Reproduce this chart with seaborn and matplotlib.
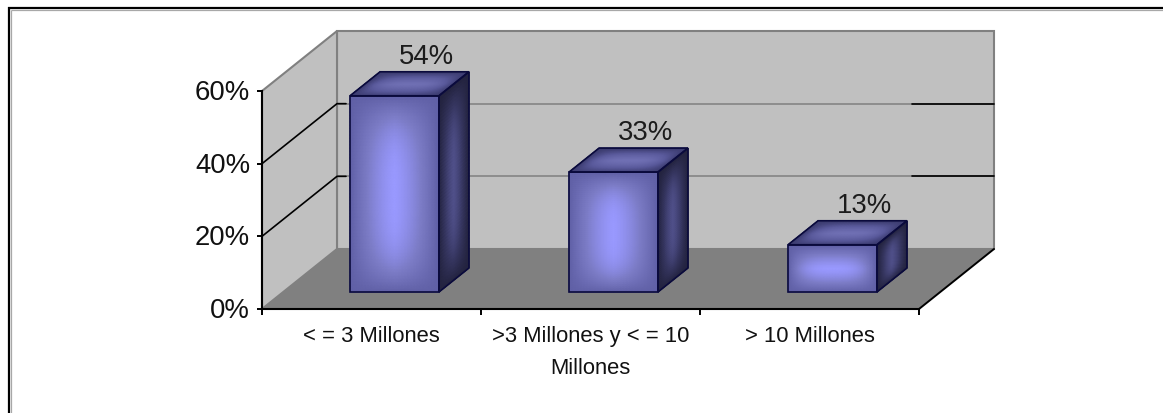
import numpy as np
import matplotlib
matplotlib.use("Agg")
import matplotlib.pyplot as plt
import pandas as pd
import seaborn as sns
from matplotlib.colors import LinearSegmentedColormap
from matplotlib.lines import Line2D
from matplotlib.patches import Polygon
from matplotlib.transforms import Affine2D

# Survey shares per revenue bracket
categories = ["< = 3 Millones", ">3 Millones y < = 10\nMillones", "> 10 Millones"]
values = [54, 33, 13]
value_labels = ["54%", "33%", "13%"]
y_ticks = [0, 20, 40, 60]
y_tick_labels = ["0%", "20%", "40%", "60%"]

W, H = 1163, 414
AX_LEFT, AX_RIGHT, AX_TOP, AX_BOTTOM = 262, 919, 92, 310

sns.set_theme(style="white")
plt.rcParams["font.family"] = ["Liberation Sans", "DejaVu Sans"]

fig = plt.figure(figsize=(W / 100, H / 100), dpi=100, facecolor="white")
ax = fig.add_axes([AX_LEFT / W, 1 - AX_BOTTOM / H,
                   (AX_RIGHT - AX_LEFT) / W, (AX_BOTTOM - AX_TOP) / H])
ax.patch.set_visible(False)

frame = pd.DataFrame({"slot": np.arange(len(categories)), "share": values})
sns.barplot(data=frame, x="slot", y="share", native_scale=True, width=0.406, color="#7676bc",
            saturation=1, ax=ax, zorder=3, linewidth=0)

XLIM = (-0.5, 2.5)
YLIM = (0, 60)
px_x = (XLIM[1] - XLIM[0]) / (AX_RIGHT - AX_LEFT)
px_y = (YLIM[1] - YLIM[0]) / (AX_BOTTOM - AX_TOP)

# Oblique projection: pixel offsets expressed in data units
WALL_DX, WALL_DY = 75 * px_x, 60 * px_y
SHIFT_DX, SHIFT_DY = 23 * px_x, 17 * px_y
BAR_DX, BAR_DY = 30 * px_x, 24 * px_y

GREY_WALL = "#c0c0c0"
GREY_FLOOR = "#808080"
GREY_EDGE = "#808080"
BAR_EDGE = "#0a0a3c"
x0, x1 = XLIM
y0, y1 = YLIM


def panel(points, color, edge="none", lw=0.0, z=1):
    ax.add_patch(Polygon(points, closed=True, facecolor=color, edgecolor=edge,
                         linewidth=lw, zorder=z, clip_on=False))


# Back wall, side wall and floor
panel([(x0 + WALL_DX, y0 + WALL_DY), (x1 + WALL_DX, y0 + WALL_DY),
       (x1 + WALL_DX, y1 + WALL_DY), (x0 + WALL_DX, y1 + WALL_DY)],
      GREY_WALL, GREY_EDGE, 1.5, z=1.1)
panel([(x0, y0), (x0 + WALL_DX, y0 + WALL_DY), (x0 + WALL_DX, y1 + WALL_DY), (x0, y1)],
      GREY_WALL, GREY_EDGE, 1.5, z=1.2)
panel([(x0, y0), (x1, y0), (x1 + WALL_DX, y0 + WALL_DY), (x0 + WALL_DX, y0 + WALL_DY)],
      GREY_FLOOR, z=1.3)
ax.plot([x1, x1 + WALL_DX], [y0, y0 + WALL_DY], color="black", lw=1.4, zorder=2,
        clip_on=False, solid_capstyle="round")

# Gridlines wrapping the side wall and running along the back wall
for tick in y_ticks[1:-1]:
    back = tick + WALL_DY
    ax.plot([x0 + WALL_DX, x1 + WALL_DX], [back, back], color=GREY_EDGE, lw=1.1,
            zorder=2, clip_on=False)
    ax.plot([x0, x0 + WALL_DX, x0 + WALL_DX + 9 * px_x], [tick, back, back], color="black",
            lw=1.2, zorder=2.1, clip_on=False)
    ax.plot([x1 - 7 * px_x, x1 + WALL_DX], [back, back], color="black", lw=1.2, zorder=2.1,
            clip_on=False)

face_cmap = LinearSegmentedColormap.from_list("face", ["#6060a6", "#7c7cc6", "#9999ff"])
side_cmap = LinearSegmentedColormap.from_list("side", ["#23233f", "#363660", "#50508a"])
top_cmap = LinearSegmentedColormap.from_list("top", ["#3c3c70", "#5a5a9c", "#7070b4"])


def shaded_face(origin, edge_u, edge_v, cmap):
    """Fill a parallelogram with a centre-bright gradient stretched along its long side."""
    s = np.linspace(-1, 1, 61)
    u, v = np.meshgrid(s, s)
    len_u = np.hypot(edge_u[0] / px_x, edge_u[1] / px_y)
    len_v = np.hypot(edge_v[0] / px_x, edge_v[1] / px_y)
    exp_u, exp_v = (3.0, 1.4) if len_u > len_v else (1.4, 3.0)
    glow = (1 - np.abs(u) ** exp_u) * (1 - np.abs(v) ** exp_v)
    px = origin[0] + (u + 1) / 2 * edge_u[0] + (v + 1) / 2 * edge_v[0]
    py = origin[1] + (u + 1) / 2 * edge_u[1] + (v + 1) / 2 * edge_v[1]
    mesh = ax.pcolormesh(px, py, glow, cmap=cmap, vmin=0, vmax=1, shading="gouraud",
                         zorder=3.1)
    mesh.set_clip_on(False)
    a = origin
    b = (a[0] + edge_u[0], a[1] + edge_u[1])
    c = (b[0] + edge_v[0], b[1] + edge_v[1])
    d = (a[0] + edge_v[0], a[1] + edge_v[1])
    panel([a, b, c, d], "none", BAR_EDGE, 1.2, z=3.2)


# Turn every seaborn bar into a box standing on the floor
shift = Affine2D().translate(SHIFT_DX, SHIFT_DY) + ax.transData
for bar, text in zip(list(ax.patches), value_labels):
    bar.set_transform(shift)
    bar.set_clip_on(False)
    left = bar.get_x() + SHIFT_DX
    width = bar.get_width()
    base = bar.get_y() + SHIFT_DY
    height = bar.get_height()
    top = base + height
    shaded_face((left, base), (width, 0), (0, height), face_cmap)
    shaded_face((left + width, base), (BAR_DX, BAR_DY), (0, height), side_cmap)
    shaded_face((left, top), (width, 0), (BAR_DX, BAR_DY), top_cmap)
    ax.text(left + width / 2 + BAR_DX + 2 * px_x, top + BAR_DY + 9 * px_y, text, ha="center",
            va="baseline", fontsize=19.8, color="#1c1c1c", zorder=5, clip_on=False)

# Axis lines, ticks and labels
ax.set_xlim(XLIM)
ax.set_ylim(YLIM)
for side in ("top", "right"):
    ax.spines[side].set_visible(False)
for side in ("left", "bottom"):
    ax.spines[side].set_color("black")
    ax.spines[side].set_linewidth(1.5)
    ax.spines[side].set_zorder(2.5)

ax.set_yticks(y_ticks, y_tick_labels)
ax.tick_params(axis="y", which="major", left=True, length=3.5, width=1.4, color="black",
               labelsize=19.8, labelcolor="#111111", pad=5)
# Percent labels sit slightly above their tick marks
for label in ax.get_yticklabels():
    label.set_transform(label.get_transform() + Affine2D().translate(0, 2))
ax.set_xticks(np.arange(x0, x1 + 0.5), [""] * 4)
ax.set_xticks(np.arange(len(categories)), categories, minor=True)
ax.tick_params(axis="x", which="major", bottom=True, length=4.5, width=1.4, color="black")
ax.tick_params(axis="x", which="minor", bottom=False, length=0, labelsize=15.8,
               labelcolor="#111111", pad=11.5)
for label in ax.get_xticklabels(minor=True):
    label.set_linespacing(1.72)
ax.set_xlabel("")
ax.set_ylabel("")

# Outer chart frame, visible along the top and left edges
pixel = Affine2D().scale(1 / W, 1 / H) + fig.transFigure
for xs, ys, colour, lw in [
    ([11, W], [H - 11, H - 11], "#a8a8a8", 0.9),
    ([11, 11], [H - 11, 0], "#a8a8a8", 0.9),
    ([8, W], [H - 9, H - 9], "black", 1.6),
    ([9, 9], [H - 8, 0], "black", 1.6),
]:
    fig.add_artist(Line2D(xs, ys, color=colour, lw=lw, transform=pixel, solid_capstyle="butt"))

fig.savefig("out.png", dpi=100, facecolor="white")
